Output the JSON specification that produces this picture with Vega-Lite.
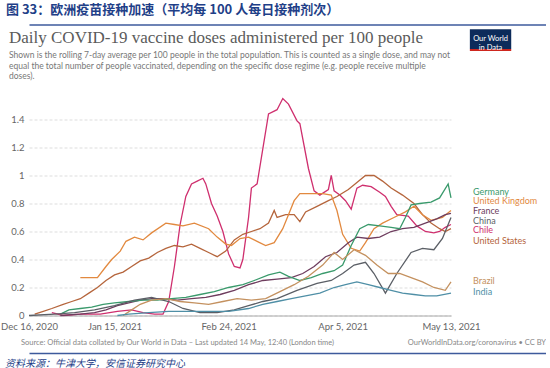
{
  "$schema": "https://vega.github.io/schema/vega-lite/v6.json",
  "background": "white",
  "padding": {"left": 0, "top": 3.5, "right": 0, "bottom": 0},
  "bounds": "flush",
  "spacing": 0,
  "config": {"view": {"stroke": null}, "font": "Lato", "concat": {"spacing": 0}, "axis": {"labelOverlap": false}, "axisY": {"labelOverlap": false, "labelSeparation": 0}},
  "datasets": {
    "doses": [
      {"c":"Chile","d":"2020-12-24","v":0.02},{"c":"Chile","d":"2020-12-28","v":0.0},{"c":"Chile","d":"2021-01-03","v":0.01},{"c":"Chile","d":"2021-01-10","v":0.01},{"c":"Chile","d":"2021-01-16","v":0.03},{"c":"Chile","d":"2021-01-21","v":0.04},{"c":"Chile","d":"2021-01-25","v":0.02},{"c":"Chile","d":"2021-01-29","v":0.01},{"c":"Chile","d":"2021-02-01","v":0.01},{"c":"Chile","d":"2021-02-03","v":0.1},{"c":"Chile","d":"2021-02-05","v":0.35},{"c":"Chile","d":"2021-02-07","v":0.65},{"c":"Chile","d":"2021-02-09","v":0.85},{"c":"Chile","d":"2021-02-11","v":0.94},{"c":"Chile","d":"2021-02-13","v":0.96},{"c":"Chile","d":"2021-02-15","v":0.98},{"c":"Chile","d":"2021-02-16","v":0.94},{"c":"Chile","d":"2021-02-18","v":0.8},{"c":"Chile","d":"2021-02-20","v":0.71},{"c":"Chile","d":"2021-02-22","v":0.6},{"c":"Chile","d":"2021-02-24","v":0.44},{"c":"Chile","d":"2021-02-26","v":0.35},{"c":"Chile","d":"2021-02-28","v":0.34},{"c":"Chile","d":"2021-03-01","v":0.4},{"c":"Chile","d":"2021-03-03","v":0.7},{"c":"Chile","d":"2021-03-04","v":0.91},{"c":"Chile","d":"2021-03-06","v":0.94},{"c":"Chile","d":"2021-03-08","v":1.19},{"c":"Chile","d":"2021-03-10","v":1.44},{"c":"Chile","d":"2021-03-12","v":1.46},{"c":"Chile","d":"2021-03-13","v":1.47},{"c":"Chile","d":"2021-03-15","v":1.55},{"c":"Chile","d":"2021-03-17","v":1.51},{"c":"Chile","d":"2021-03-20","v":1.39},{"c":"Chile","d":"2021-03-21","v":1.37},{"c":"Chile","d":"2021-03-24","v":1.05},{"c":"Chile","d":"2021-03-26","v":0.89},{"c":"Chile","d":"2021-03-28","v":0.86},{"c":"Chile","d":"2021-03-31","v":0.9},{"c":"Chile","d":"2021-04-01","v":1.0},{"c":"Chile","d":"2021-04-02","v":0.89},{"c":"Chile","d":"2021-04-04","v":0.86},{"c":"Chile","d":"2021-04-06","v":0.82},{"c":"Chile","d":"2021-04-08","v":0.76},{"c":"Chile","d":"2021-04-10","v":0.91},{"c":"Chile","d":"2021-04-12","v":0.93},{"c":"Chile","d":"2021-04-15","v":0.92},{"c":"Chile","d":"2021-04-18","v":0.88},{"c":"Chile","d":"2021-04-20","v":0.85},{"c":"Chile","d":"2021-04-22","v":0.78},{"c":"Chile","d":"2021-04-24","v":0.72},{"c":"Chile","d":"2021-04-28","v":0.71},{"c":"Chile","d":"2021-05-01","v":0.64},{"c":"Chile","d":"2021-05-04","v":0.6},{"c":"Chile","d":"2021-05-07","v":0.59},{"c":"Chile","d":"2021-05-09","v":0.6},{"c":"Chile","d":"2021-05-11","v":0.63},{"c":"Chile","d":"2021-05-13","v":0.65},
      {"c":"United States","d":"2020-12-18","v":0.01},{"c":"United States","d":"2020-12-21","v":0.03},{"c":"United States","d":"2020-12-24","v":0.05},{"c":"United States","d":"2020-12-28","v":0.08},{"c":"United States","d":"2020-12-31","v":0.1},{"c":"United States","d":"2021-01-03","v":0.12},{"c":"United States","d":"2021-01-06","v":0.16},{"c":"United States","d":"2021-01-09","v":0.2},{"c":"United States","d":"2021-01-12","v":0.25},{"c":"United States","d":"2021-01-15","v":0.29},{"c":"United States","d":"2021-01-18","v":0.31},{"c":"United States","d":"2021-01-21","v":0.35},{"c":"United States","d":"2021-01-24","v":0.39},{"c":"United States","d":"2021-01-27","v":0.41},{"c":"United States","d":"2021-01-30","v":0.45},{"c":"United States","d":"2021-02-02","v":0.48},{"c":"United States","d":"2021-02-05","v":0.5},{"c":"United States","d":"2021-02-08","v":0.49},{"c":"United States","d":"2021-02-11","v":0.51},{"c":"United States","d":"2021-02-14","v":0.48},{"c":"United States","d":"2021-02-17","v":0.45},{"c":"United States","d":"2021-02-20","v":0.42},{"c":"United States","d":"2021-02-23","v":0.46},{"c":"United States","d":"2021-02-26","v":0.54},{"c":"United States","d":"2021-03-01","v":0.58},{"c":"United States","d":"2021-03-04","v":0.6},{"c":"United States","d":"2021-03-07","v":0.62},{"c":"United States","d":"2021-03-10","v":0.66},{"c":"United States","d":"2021-03-12","v":0.75},{"c":"United States","d":"2021-03-13","v":0.7},{"c":"United States","d":"2021-03-16","v":0.72},{"c":"United States","d":"2021-03-19","v":0.72},{"c":"United States","d":"2021-03-21","v":0.67},{"c":"United States","d":"2021-03-23","v":0.74},{"c":"United States","d":"2021-03-27","v":0.78},{"c":"United States","d":"2021-03-31","v":0.82},{"c":"United States","d":"2021-04-03","v":0.85},{"c":"United States","d":"2021-04-07","v":0.9},{"c":"United States","d":"2021-04-10","v":0.95},{"c":"United States","d":"2021-04-13","v":1.0},{"c":"United States","d":"2021-04-16","v":1.0},{"c":"United States","d":"2021-04-19","v":0.96},{"c":"United States","d":"2021-04-22","v":0.91},{"c":"United States","d":"2021-04-26","v":0.86},{"c":"United States","d":"2021-04-30","v":0.8},{"c":"United States","d":"2021-05-03","v":0.72},{"c":"United States","d":"2021-05-06","v":0.66},{"c":"United States","d":"2021-05-09","v":0.62},{"c":"United States","d":"2021-05-11","v":0.6},{"c":"United States","d":"2021-05-13","v":0.62},
      {"c":"United Kingdom","d":"2021-01-03","v":0.27},{"c":"United Kingdom","d":"2021-01-09","v":0.27},{"c":"United Kingdom","d":"2021-01-12","v":0.35},{"c":"United Kingdom","d":"2021-01-14","v":0.4},{"c":"United Kingdom","d":"2021-01-17","v":0.46},{"c":"United Kingdom","d":"2021-01-19","v":0.53},{"c":"United Kingdom","d":"2021-01-22","v":0.56},{"c":"United Kingdom","d":"2021-01-25","v":0.54},{"c":"United Kingdom","d":"2021-01-28","v":0.59},{"c":"United Kingdom","d":"2021-02-02","v":0.66},{"c":"United Kingdom","d":"2021-02-05","v":0.65},{"c":"United Kingdom","d":"2021-02-08","v":0.64},{"c":"United Kingdom","d":"2021-02-12","v":0.66},{"c":"United Kingdom","d":"2021-02-17","v":0.62},{"c":"United Kingdom","d":"2021-02-20","v":0.56},{"c":"United Kingdom","d":"2021-02-23","v":0.51},{"c":"United Kingdom","d":"2021-02-25","v":0.5},{"c":"United Kingdom","d":"2021-02-28","v":0.55},{"c":"United Kingdom","d":"2021-03-03","v":0.56},{"c":"United Kingdom","d":"2021-03-06","v":0.53},{"c":"United Kingdom","d":"2021-03-09","v":0.5},{"c":"United Kingdom","d":"2021-03-12","v":0.52},{"c":"United Kingdom","d":"2021-03-15","v":0.62},{"c":"United Kingdom","d":"2021-03-17","v":0.72},{"c":"United Kingdom","d":"2021-03-19","v":0.82},{"c":"United Kingdom","d":"2021-03-21","v":0.87},{"c":"United Kingdom","d":"2021-03-25","v":0.87},{"c":"United Kingdom","d":"2021-03-29","v":0.87},{"c":"United Kingdom","d":"2021-04-01","v":0.86},{"c":"United Kingdom","d":"2021-04-03","v":0.75},{"c":"United Kingdom","d":"2021-04-05","v":0.58},{"c":"United Kingdom","d":"2021-04-08","v":0.48},{"c":"United Kingdom","d":"2021-04-11","v":0.46},{"c":"United Kingdom","d":"2021-04-13","v":0.52},{"c":"United Kingdom","d":"2021-04-16","v":0.62},{"c":"United Kingdom","d":"2021-04-19","v":0.66},{"c":"United Kingdom","d":"2021-04-23","v":0.7},{"c":"United Kingdom","d":"2021-04-27","v":0.74},{"c":"United Kingdom","d":"2021-04-30","v":0.78},{"c":"United Kingdom","d":"2021-05-03","v":0.72},{"c":"United Kingdom","d":"2021-05-06","v":0.68},{"c":"United Kingdom","d":"2021-05-10","v":0.7},{"c":"United Kingdom","d":"2021-05-13","v":0.75},
      {"c":"France","d":"2020-12-27","v":0.0},{"c":"France","d":"2021-01-03","v":0.01},{"c":"France","d":"2021-01-08","v":0.02},{"c":"France","d":"2021-01-12","v":0.04},{"c":"France","d":"2021-01-16","v":0.07},{"c":"France","d":"2021-01-20","v":0.09},{"c":"France","d":"2021-01-24","v":0.11},{"c":"France","d":"2021-01-28","v":0.12},{"c":"France","d":"2021-02-01","v":0.12},{"c":"France","d":"2021-02-06","v":0.11},{"c":"France","d":"2021-02-11","v":0.12},{"c":"France","d":"2021-02-16","v":0.13},{"c":"France","d":"2021-02-21","v":0.15},{"c":"France","d":"2021-02-26","v":0.18},{"c":"France","d":"2021-03-03","v":0.22},{"c":"France","d":"2021-03-08","v":0.25},{"c":"France","d":"2021-03-13","v":0.26},{"c":"France","d":"2021-03-18","v":0.27},{"c":"France","d":"2021-03-22","v":0.3},{"c":"France","d":"2021-03-26","v":0.35},{"c":"France","d":"2021-03-30","v":0.42},{"c":"France","d":"2021-04-03","v":0.45},{"c":"France","d":"2021-04-07","v":0.52},{"c":"France","d":"2021-04-10","v":0.56},{"c":"France","d":"2021-04-14","v":0.55},{"c":"France","d":"2021-04-18","v":0.56},{"c":"France","d":"2021-04-22","v":0.6},{"c":"France","d":"2021-04-26","v":0.62},{"c":"France","d":"2021-04-30","v":0.63},{"c":"France","d":"2021-05-04","v":0.66},{"c":"France","d":"2021-05-08","v":0.69},{"c":"France","d":"2021-05-11","v":0.72},{"c":"France","d":"2021-05-13","v":0.73},
      {"c":"Germany","d":"2020-12-27","v":0.01},{"c":"Germany","d":"2020-12-30","v":0.04},{"c":"Germany","d":"2021-01-03","v":0.05},{"c":"Germany","d":"2021-01-07","v":0.06},{"c":"Germany","d":"2021-01-11","v":0.08},{"c":"Germany","d":"2021-01-15","v":0.09},{"c":"Germany","d":"2021-01-20","v":0.1},{"c":"Germany","d":"2021-01-25","v":0.11},{"c":"Germany","d":"2021-01-30","v":0.11},{"c":"Germany","d":"2021-02-04","v":0.12},{"c":"Germany","d":"2021-02-09","v":0.13},{"c":"Germany","d":"2021-02-14","v":0.15},{"c":"Germany","d":"2021-02-19","v":0.17},{"c":"Germany","d":"2021-02-24","v":0.2},{"c":"Germany","d":"2021-03-01","v":0.22},{"c":"Germany","d":"2021-03-05","v":0.25},{"c":"Germany","d":"2021-03-10","v":0.29},{"c":"Germany","d":"2021-03-14","v":0.31},{"c":"Germany","d":"2021-03-17","v":0.28},{"c":"Germany","d":"2021-03-21","v":0.25},{"c":"Germany","d":"2021-03-25","v":0.27},{"c":"Germany","d":"2021-03-29","v":0.3},{"c":"Germany","d":"2021-04-02","v":0.32},{"c":"Germany","d":"2021-04-05","v":0.36},{"c":"Germany","d":"2021-04-08","v":0.5},{"c":"Germany","d":"2021-04-11","v":0.62},{"c":"Germany","d":"2021-04-14","v":0.65},{"c":"Germany","d":"2021-04-18","v":0.64},{"c":"Germany","d":"2021-04-22","v":0.63},{"c":"Germany","d":"2021-04-25","v":0.62},{"c":"Germany","d":"2021-04-27","v":0.7},{"c":"Germany","d":"2021-04-29","v":0.79},{"c":"Germany","d":"2021-05-02","v":0.8},{"c":"Germany","d":"2021-05-06","v":0.81},{"c":"Germany","d":"2021-05-09","v":0.84},{"c":"Germany","d":"2021-05-12","v":0.94},{"c":"Germany","d":"2021-05-13","v":0.84},
      {"c":"China","d":"2020-12-16","v":0.0},{"c":"China","d":"2020-12-25","v":0.01},{"c":"China","d":"2021-01-01","v":0.02},{"c":"China","d":"2021-01-08","v":0.04},{"c":"China","d":"2021-01-15","v":0.07},{"c":"China","d":"2021-01-22","v":0.11},{"c":"China","d":"2021-01-28","v":0.13},{"c":"China","d":"2021-02-03","v":0.1},{"c":"China","d":"2021-02-08","v":0.05},{"c":"China","d":"2021-02-14","v":0.02},{"c":"China","d":"2021-02-20","v":0.02},{"c":"China","d":"2021-02-26","v":0.04},{"c":"China","d":"2021-03-03","v":0.07},{"c":"China","d":"2021-03-08","v":0.1},{"c":"China","d":"2021-03-13","v":0.12},{"c":"China","d":"2021-03-20","v":0.18},{"c":"China","d":"2021-03-27","v":0.23},{"c":"China","d":"2021-04-01","v":0.25},{"c":"China","d":"2021-04-05","v":0.3},{"c":"China","d":"2021-04-09","v":0.36},{"c":"China","d":"2021-04-13","v":0.38},{"c":"China","d":"2021-04-16","v":0.3},{"c":"China","d":"2021-04-20","v":0.16},{"c":"China","d":"2021-04-24","v":0.3},{"c":"China","d":"2021-04-29","v":0.45},{"c":"China","d":"2021-05-03","v":0.48},{"c":"China","d":"2021-05-07","v":0.47},{"c":"China","d":"2021-05-10","v":0.55},{"c":"China","d":"2021-05-13","v":0.7},
      {"c":"Brazil","d":"2021-01-18","v":0.0},{"c":"Brazil","d":"2021-01-21","v":0.04},{"c":"Brazil","d":"2021-01-24","v":0.08},{"c":"Brazil","d":"2021-01-28","v":0.11},{"c":"Brazil","d":"2021-02-02","v":0.12},{"c":"Brazil","d":"2021-02-07","v":0.1},{"c":"Brazil","d":"2021-02-12","v":0.09},{"c":"Brazil","d":"2021-02-17","v":0.08},{"c":"Brazil","d":"2021-02-22","v":0.1},{"c":"Brazil","d":"2021-02-27","v":0.12},{"c":"Brazil","d":"2021-03-04","v":0.11},{"c":"Brazil","d":"2021-03-09","v":0.12},{"c":"Brazil","d":"2021-03-14","v":0.17},{"c":"Brazil","d":"2021-03-19","v":0.22},{"c":"Brazil","d":"2021-03-24","v":0.28},{"c":"Brazil","d":"2021-03-29","v":0.36},{"c":"Brazil","d":"2021-04-02","v":0.45},{"c":"Brazil","d":"2021-04-05","v":0.4},{"c":"Brazil","d":"2021-04-09","v":0.47},{"c":"Brazil","d":"2021-04-13","v":0.43},{"c":"Brazil","d":"2021-04-17","v":0.36},{"c":"Brazil","d":"2021-04-21","v":0.3},{"c":"Brazil","d":"2021-04-25","v":0.3},{"c":"Brazil","d":"2021-04-29","v":0.27},{"c":"Brazil","d":"2021-05-03","v":0.24},{"c":"Brazil","d":"2021-05-07","v":0.2},{"c":"Brazil","d":"2021-05-11","v":0.18},{"c":"Brazil","d":"2021-05-13","v":0.24},
      {"c":"India","d":"2021-01-16","v":0.0},{"c":"India","d":"2021-01-20","v":0.01},{"c":"India","d":"2021-01-27","v":0.02},{"c":"India","d":"2021-02-03","v":0.03},{"c":"India","d":"2021-02-10","v":0.03},{"c":"India","d":"2021-02-17","v":0.03},{"c":"India","d":"2021-02-24","v":0.03},{"c":"India","d":"2021-03-03","v":0.05},{"c":"India","d":"2021-03-08","v":0.08},{"c":"India","d":"2021-03-13","v":0.1},{"c":"India","d":"2021-03-18","v":0.12},{"c":"India","d":"2021-03-23","v":0.14},{"c":"India","d":"2021-03-28","v":0.16},{"c":"India","d":"2021-04-02","v":0.2},{"c":"India","d":"2021-04-06","v":0.22},{"c":"India","d":"2021-04-10","v":0.24},{"c":"India","d":"2021-04-14","v":0.22},{"c":"India","d":"2021-04-18","v":0.2},{"c":"India","d":"2021-04-22","v":0.18},{"c":"India","d":"2021-04-26","v":0.16},{"c":"India","d":"2021-04-30","v":0.15},{"c":"India","d":"2021-05-04","v":0.14},{"c":"India","d":"2021-05-08","v":0.14},{"c":"India","d":"2021-05-13","v":0.16}
    ]
  },
  "vconcat": [
    {
      "width": 517, "height": 1.5,
      "title": {"text": "图 33：欧洲疫苗接种加速（平均每 100 人每日接种剂次）", "anchor": "start", "font": "Noto Sans CJK SC", "fontSize": 13, "fontWeight": "bold", "color": "#1f3f88", "offset": 4, "dx": -23},
      "data": {"values": [{"z": 0}]},
      "mark": {"type": "point", "opacity": 0}
    },
    {
      "width": 517, "height": 30.5,
      "title": {"text": "Daily COVID-19 vaccine doses administered per 100 people", "subtitle": ["Shown is the rolling 7-day average per 100 people in the total population. This is counted as a single dose, and may not", "equal the total number of people vaccinated, depending on the specific dose regime (e.g. people receive multiple", "doses)."], "orient": "bottom", "anchor": "start", "font": "Liberation Serif", "fontSize": 17, "fontWeight": "normal", "color": "#5b5b5b", "subtitleFont": "Lato", "subtitleFontSize": 8.5, "subtitleColor": "#777777", "subtitlePadding": 4, "subtitleLineHeight": 10.5, "offset": -25, "dx": -20},
      "data": {"values": [{"z": 0}]},
      "layer": [
        {"mark": {"type": "rect", "color": "#0c2b5a"},
         "encoding": {"x": {"datum": 469, "type": "quantitative", "scale": {"domain": [0, 517]}, "axis": {"orient": "top", "domainColor": "#3d5a9c", "domainWidth": 1.5, "labels": false, "ticks": false, "grid": false, "title": null}}, "x2": {"datum": 513}, "y": {"datum": 5.5, "type": "quantitative", "scale": {"domain": [0, 30.5], "reverse": true}, "axis": null}, "y2": {"datum": 28}}},
        {"mark": {"type": "rect", "color": "#ce261e"},
         "encoding": {"x": {"datum": 469, "type": "quantitative"}, "x2": {"datum": 513}, "y": {"datum": 28, "type": "quantitative", "axis": null}, "y2": {"datum": 30.5}}},
        {"mark": {"type": "text", "color": "white", "fontSize": 7.5, "font": "Lato", "lineHeight": 8.5, "align": "center", "baseline": "middle"},
         "encoding": {"x": {"datum": 491, "type": "quantitative"}, "y": {"datum": 17, "type": "quantitative", "axis": null}, "text": {"value": ["Our World", "in Data"]}}}
      ]
    },
    {
      "width": 422, "height": 260,
      "data": {"name": "doses"},
      "resolve": {"scale": {"y": "independent"}},
      "layer": [
        {
          "mark": {"type": "line", "strokeWidth": 1.3},
          "encoding": {
            "x": {"field": "d", "type": "temporal", "title": null,
                  "scale": {"domain": [{"year": 2020, "month": 12, "date": 16}, {"year": 2021, "month": 5, "date": 13}]},
                  "axis": {"values": [{"year": 2020, "month": 12, "date": 16}, {"year": 2021, "month": 1, "date": 15}, {"year": 2021, "month": 2, "date": 24}, {"year": 2021, "month": 4, "date": 5}, {"year": 2021, "month": 5, "date": 13}], "format": "%b %-d, %Y", "grid": false, "ticks": false, "labelFlush": false, "labelOverlap": false, "domainColor": "#aaaaaa", "labelColor": "#666666", "labelFontSize": 9.5, "labelPadding": 6, "labelFont": "Lato"}},
            "y": {"field": "v", "type": "quantitative", "title": null,
                  "scale": {"domain": [0, 1.857], "nice": false},
                  "axis": {"values": [0, 0.2, 0.4, 0.6, 0.8, 1, 1.2, 1.4], "format": "~g", "domain": false, "ticks": false, "labelOverlap": false, "gridColor": "#dddddd", "gridDash": [3, 2], "labelColor": "#666666", "labelFontSize": 9.5, "labelPadding": 5, "labelFont": "Lato"}},
            "color": {"field": "c", "type": "nominal", "legend": null,
                      "scale": {"domain": ["Germany", "United Kingdom", "France", "China", "Chile", "United States", "Brazil", "India"],
                                "range": ["#3a9a6c", "#e2893f", "#6e3d5e", "#5b5f66", "#cf2f6e", "#b5653c", "#c4915f", "#4f8fa6"]}}
          }
        },
        {"transform": [{"filter": "datum.c === 'Germany'"}, {"aggregate": [{"op": "argmax", "field": "d", "as": "L"}]}], "mark": {"type": "text", "align": "left", "baseline": "middle", "dx": 22, "dy": -6, "fontSize": 9, "color": "#3a9a6c"}, "encoding": {"x": {"datum": {"year": 2021, "month": 5, "date": 13}, "type": "temporal"}, "y": {"field": "L.v", "type": "quantitative", "scale": {"domain": [0, 1.857], "nice": false}, "axis": null}, "text": {"value": "Germany"}}},
        {"transform": [{"filter": "datum.c === 'United Kingdom'"}, {"aggregate": [{"op": "argmax", "field": "d", "as": "L"}]}], "mark": {"type": "text", "align": "left", "baseline": "middle", "dx": 22, "dy": -9, "fontSize": 9, "color": "#e2893f"}, "encoding": {"x": {"datum": {"year": 2021, "month": 5, "date": 13}, "type": "temporal"}, "y": {"field": "L.v", "type": "quantitative", "scale": {"domain": [0, 1.857], "nice": false}, "axis": null}, "text": {"value": "United Kingdom"}}},
        {"transform": [{"filter": "datum.c === 'France'"}, {"aggregate": [{"op": "argmax", "field": "d", "as": "L"}]}], "mark": {"type": "text", "align": "left", "baseline": "middle", "dx": 22, "dy": -2, "fontSize": 9, "color": "#6e3d5e"}, "encoding": {"x": {"datum": {"year": 2021, "month": 5, "date": 13}, "type": "temporal"}, "y": {"field": "L.v", "type": "quantitative", "scale": {"domain": [0, 1.857], "nice": false}, "axis": null}, "text": {"value": "France"}}},
        {"transform": [{"filter": "datum.c === 'China'"}, {"aggregate": [{"op": "argmax", "field": "d", "as": "L"}]}], "mark": {"type": "text", "align": "left", "baseline": "middle", "dx": 22, "dy": 4, "fontSize": 9, "color": "#5b5f66"}, "encoding": {"x": {"datum": {"year": 2021, "month": 5, "date": 13}, "type": "temporal"}, "y": {"field": "L.v", "type": "quantitative", "scale": {"domain": [0, 1.857], "nice": false}, "axis": null}, "text": {"value": "China"}}},
        {"transform": [{"filter": "datum.c === 'Chile'"}, {"aggregate": [{"op": "argmax", "field": "d", "as": "L"}]}], "mark": {"type": "text", "align": "left", "baseline": "middle", "dx": 22, "dy": 6, "fontSize": 9, "color": "#cf2f6e"}, "encoding": {"x": {"datum": {"year": 2021, "month": 5, "date": 13}, "type": "temporal"}, "y": {"field": "L.v", "type": "quantitative", "scale": {"domain": [0, 1.857], "nice": false}, "axis": null}, "text": {"value": "Chile"}}},
        {"transform": [{"filter": "datum.c === 'United States'"}, {"aggregate": [{"op": "argmax", "field": "d", "as": "L"}]}], "mark": {"type": "text", "align": "left", "baseline": "middle", "dx": 22, "dy": 12, "fontSize": 9, "color": "#b5653c"}, "encoding": {"x": {"datum": {"year": 2021, "month": 5, "date": 13}, "type": "temporal"}, "y": {"field": "L.v", "type": "quantitative", "scale": {"domain": [0, 1.857], "nice": false}, "axis": null}, "text": {"value": "United States"}}},
        {"transform": [{"filter": "datum.c === 'Brazil'"}, {"aggregate": [{"op": "argmax", "field": "d", "as": "L"}]}], "mark": {"type": "text", "align": "left", "baseline": "middle", "dx": 22, "dy": -1, "fontSize": 9, "color": "#c4915f"}, "encoding": {"x": {"datum": {"year": 2021, "month": 5, "date": 13}, "type": "temporal"}, "y": {"field": "L.v", "type": "quantitative", "scale": {"domain": [0, 1.857], "nice": false}, "axis": null}, "text": {"value": "Brazil"}}},
        {"transform": [{"filter": "datum.c === 'India'"}, {"aggregate": [{"op": "argmax", "field": "d", "as": "L"}]}], "mark": {"type": "text", "align": "left", "baseline": "middle", "dx": 22, "dy": -1, "fontSize": 9, "color": "#4f8fa6"}, "encoding": {"x": {"datum": {"year": 2021, "month": 5, "date": 13}, "type": "temporal"}, "y": {"field": "L.v", "type": "quantitative", "scale": {"domain": [0, 1.857], "nice": false}, "axis": null}, "text": {"value": "India"}}}
      ]
    },
    {
      "width": 517, "height": 37.5,
      "title": {"text": "Source: Official data collated by Our World in Data – Last updated 14 May, 12:40 (London time)", "orient": "bottom", "anchor": "start", "font": "Lato", "fontSize": 7.5, "fontWeight": "normal", "color": "#888888", "offset": -14, "dx": -8},
      "data": {"values": [{"z": 0}]},
      "mark": {"type": "text", "align": "right", "baseline": "middle", "font": "Lato", "fontSize": 7.5, "color": "#888888"},
      "encoding": {"x": {"datum": 517, "type": "quantitative", "scale": {"domain": [0, 517]}, "axis": {"orient": "bottom", "domainColor": "#3d5a9c", "domainWidth": 1.5, "labels": false, "ticks": false, "grid": false, "title": null}}, "y": {"datum": 27.5, "type": "quantitative", "scale": {"domain": [0, 37.5], "reverse": true}, "axis": null}, "text": {"value": "OurWorldInData.org/coronavirus • CC BY"}}
    },
    {
      "width": 517, "height": 1.5,
      "title": {"text": "资料来源：牛津大学，安信证券研究中心", "orient": "bottom", "anchor": "start", "font": "Noto Sans CJK SC", "fontSize": 10, "fontStyle": "italic", "fontWeight": "normal", "color": "#1f3f88", "offset": 2, "dx": -24},
      "data": {"values": [{"z": 0}]},
      "mark": {"type": "point", "opacity": 0}
    }
  ]
}
